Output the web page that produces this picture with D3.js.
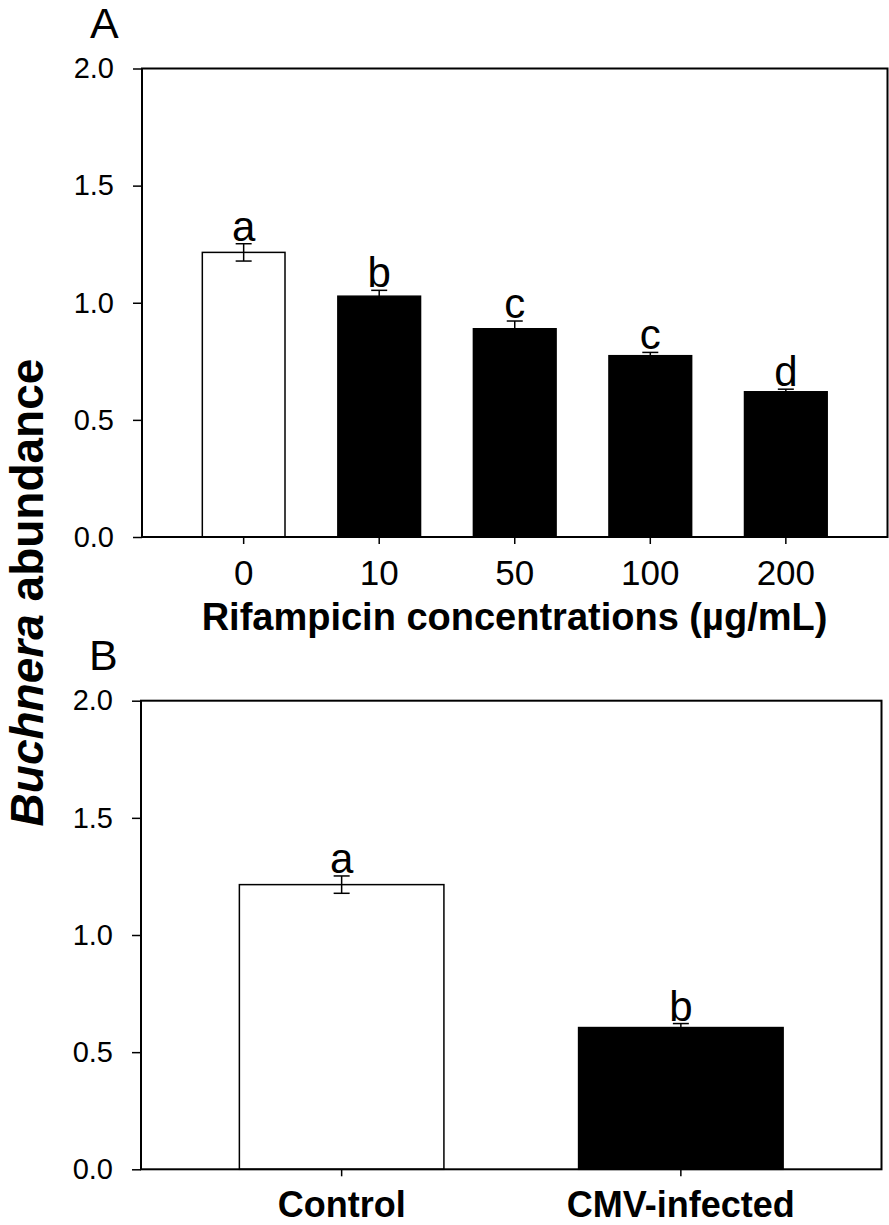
<!DOCTYPE html>
<html>
<head>
<meta charset="utf-8">
<script src="https://cdn.jsdelivr.net/npm/d3@7"></script>
<style>
  body { margin: 0; background: #fff; }
  text { font-family: "Liberation Sans", Arial, Helvetica, sans-serif; fill: #000; }
</style>
</head>
<body>
<div id="chart"></div>
<script>
// panel A data (rifampicin)
var concA = ["0", "10", "50", "100", "200"];
var meanA = [1.215, 1.028, 0.889, 0.774, 0.620];
var errA = [0.037, 0.025, 0.033, 0.014, 0.011];
var letterA = ["a", "b", "c", "c", "d"];

// panel B data
var groupB = ["Control", "CMV-infected"];
var meanB = [1.215, 0.605];
var errB = [0.037, 0.017];
var letterB = ["a", "b"];

var yTicks = [0, 0.5, 1.0, 1.5, 2.0];

var W = 889, H = 1225;

var svg = d3.select("#chart")
  .append("svg")
    .attr("width", W)
    .attr("height", H);

function drawPanel(p) {
  var data = p.cats.map(function(c, i) {
    return {cat: c, mean: p.mean[i], err: p.err[i], letter: p.letters[i], idx: i};
  });

  var x = d3.scaleBand()
      .domain(p.cats)
      .range([p.left, p.right])
      .paddingInner(p.padIn)
      .paddingOuter(p.padOut);
  var y = d3.scaleLinear()
      .domain([0, 2])
      .range([p.bottom, p.top]);

  var g = svg.append("g");

  // bars
  g.selectAll("rect.bar")
    .data(data)
    .enter()
    .append("rect")
      .attr("class", "bar")
      .attr("x", function(d) { return x(d.cat); })
      .attr("y", function(d) { return y(d.mean); })
      .attr("width", x.bandwidth())
      .attr("height", function(d) { return y(0) - y(d.mean); })
      .attr("fill", function(d) { return d.idx === 0 ? "#fff" : "#000"; })
      .attr("stroke", "#000")
      .attr("stroke-width", 1.5);

  // error bars
  var cap = 8;
  var eb = g.selectAll("g.err")
    .data(data)
    .enter()
    .append("g")
      .attr("class", "err")
      .attr("stroke", "#000")
      .attr("stroke-width", 1.5);
  eb.append("line")
      .attr("x1", function(d) { return x(d.cat) + x.bandwidth() / 2; })
      .attr("x2", function(d) { return x(d.cat) + x.bandwidth() / 2; })
      .attr("y1", function(d) { return y(d.mean - d.err); })
      .attr("y2", function(d) { return y(d.mean + d.err); });
  eb.append("line")
      .attr("x1", function(d) { return x(d.cat) + x.bandwidth() / 2 - cap; })
      .attr("x2", function(d) { return x(d.cat) + x.bandwidth() / 2 + cap; })
      .attr("y1", function(d) { return y(d.mean + d.err); })
      .attr("y2", function(d) { return y(d.mean + d.err); });
  eb.append("line")
      .attr("x1", function(d) { return x(d.cat) + x.bandwidth() / 2 - cap; })
      .attr("x2", function(d) { return x(d.cat) + x.bandwidth() / 2 + cap; })
      .attr("y1", function(d) { return y(d.mean - d.err); })
      .attr("y2", function(d) { return y(d.mean - d.err); });

  // significance letters
  g.selectAll("text.letter")
    .data(data)
    .enter()
    .append("text")
      .attr("class", "letter")
      .attr("x", function(d) { return x(d.cat) + x.bandwidth() / 2; })
      .attr("y", function(d) { return y(d.mean + d.err) - 3; })
      .attr("text-anchor", "middle")
      .style("font-size", "42px")
      .text(function(d) { return d.letter; });

  // y axis
  var ya = g.append("g")
      .attr("transform", "translate(" + p.left + ",0)")
      .call(d3.axisLeft(y).tickValues(yTicks).tickFormat(d3.format(".1f")).tickSize(9).tickPadding(19));
  ya.select(".domain").remove();
  ya.selectAll("line").attr("stroke-width", 1.5);
  ya.selectAll("text").style("font-size", "29px").attr("font-family", null);

  // x axis
  var xa = g.append("g")
      .attr("transform", "translate(0," + p.bottom + ")")
      .call(d3.axisBottom(x).tickSize(7).tickPadding(p.xPad));
  xa.select(".domain").remove();
  xa.selectAll("line").attr("stroke-width", 1.5);
  xa.selectAll("text")
      .style("font-size", p.xFont)
      .style("font-weight", p.xBold ? "bold" : "normal")
      .attr("font-family", null);

  // frame
  g.append("rect")
      .attr("x", p.left)
      .attr("y", p.top)
      .attr("width", p.right - p.left)
      .attr("height", p.bottom - p.top)
      .attr("fill", "none")
      .attr("stroke", "#000")
      .attr("stroke-width", 2);

  // panel letter
  g.append("text")
      .attr("x", p.left - 52)
      .attr("y", p.top - 31)
      .style("font-size", "43px")
      .text(p.label);

  return x;
}

drawPanel({
  cats: concA, mean: meanA, err: errA, letters: letterA,
  left: 142, right: 887.5, top: 68.5, bottom: 537,
  padIn: 0.39, padOut: 0.445, xPad: 16, xFont: "35px", xBold: false, label: "A"
});

drawPanel({
  cats: groupB, mean: meanB, err: errB, letters: letterB,
  left: 141, right: 881.5, top: 700.7, bottom: 1169.3,
  padIn: 0.397, padOut: 0.29, xPad: 15, xFont: "36px", xBold: true, label: "B"
});

// x title panel A
svg.append("text")
    .attr("x", 514.5)
    .attr("y", 630)
    .attr("text-anchor", "middle")
    .style("font-size", "38px")
    .style("font-weight", "bold")
    .text("Rifampicin concentrations (\u00b5g/mL)");

// shared y title
var yt = svg.append("text")
    .attr("transform", "translate(43,592.5) rotate(-90)")
    .attr("text-anchor", "middle")
    .style("font-size", "46px")
    .style("font-weight", "bold");
yt.append("tspan").style("font-style", "italic").text("Buchnera");
yt.append("tspan").text(" abundance");
</script>
</body>
</html>
